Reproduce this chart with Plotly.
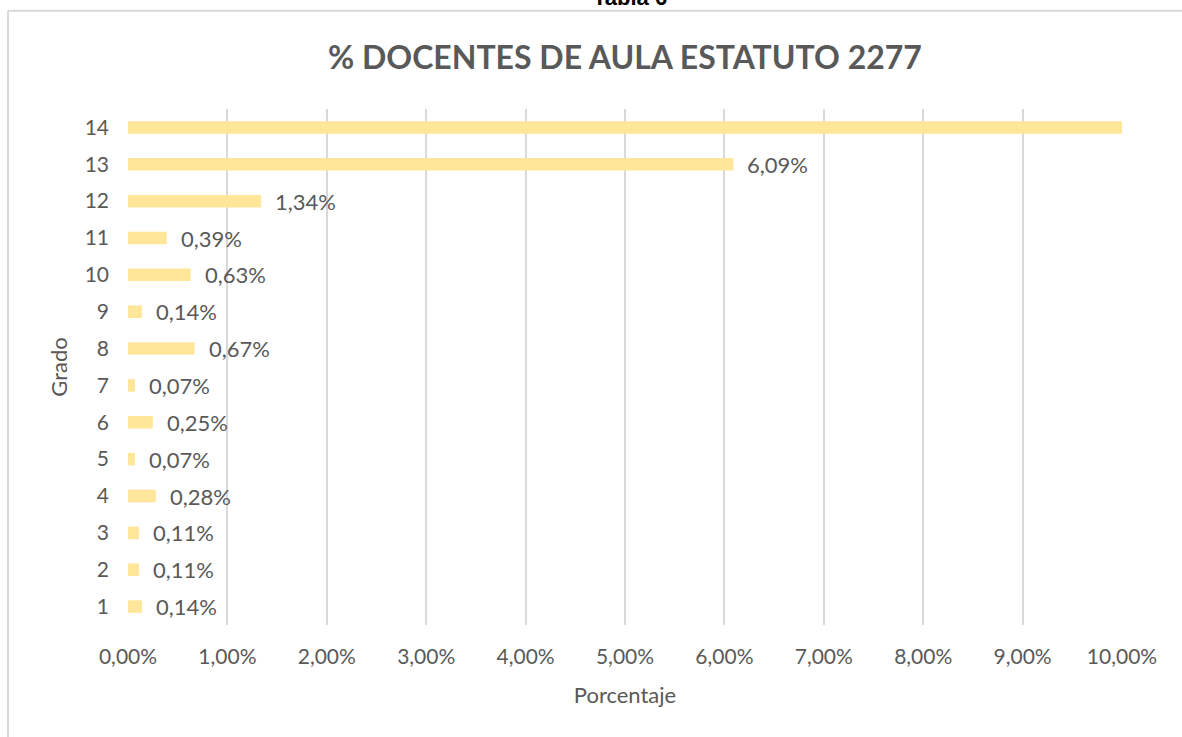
import plotly.graph_objects as go

grados = ["1", "2", "3", "4", "5", "6", "7", "8", "9", "10", "11", "12", "13", "14"]
porcentajes = [0.14, 0.11, 0.11, 0.28, 0.07, 0.25, 0.07, 0.67, 0.14, 0.63, 0.39, 1.34, 6.09, 89.71]
x_ticks = [0, 1, 2, 3, 4, 5, 6, 7, 8, 9, 10]
x_tick_labels = ["0,00%", "1,00%", "2,00%", "3,00%", "4,00%", "5,00%",
                 "6,00%", "7,00%", "8,00%", "9,00%", "10,00%"]
x_max = 10

W, H = 1182, 737
L, R, T, B = 128, 60, 108.5, 111.5
pw, ph = W - L - R, H - T - B

def px_x(p):
    return (p - L) / pw

def px_y(p):
    return (H - B - p) / ph

gray = "#595959"
font = "Lato, 'Open Sans', sans-serif"

fig = go.Figure()
fig.add_trace(go.Bar(
    y=grados, x=porcentajes, orientation="h",
    marker=dict(color="#FFE699", line=dict(width=0)),
    width=0.34, cliponaxis=True, hoverinfo="skip",
))

annotations = []
for i, (g, v) in enumerate(zip(grados, porcentajes)):
    if v <= x_max:
        annotations.append(dict(
            x=v, y=i, xref="x", yref="y",
            text=f"{v:.2f}%".replace(".", ","),
            showarrow=False, xanchor="left", yanchor="middle",
            xshift=12, font=dict(size=22, color=gray, family=font),
        ))

annotations.append(dict(
    x=px_x(630), y=px_y(-3), xref="paper", yref="paper",
    text="<b>Tabla 6</b>", showarrow=False, xanchor="center", yanchor="middle",
    font=dict(size=22, color="#000000", family="Liberation Sans, Arial"),
))

annotations.append(dict(
    x=0.5, y=px_y(56), xref="paper", yref="paper",
    text="<b>% DOCENTES DE AULA ESTATUTO 2277</b>", showarrow=False,
    xanchor="center", yanchor="middle",
    font=dict(size=32, color=gray, family=font),
))

shapes = [
    dict(type="line", xref="paper", yref="paper",
         x0=px_x(8), x1=px_x(1182), y0=px_y(10), y1=px_y(10),
         line=dict(color="#D9D9D9", width=2)),
    dict(type="line", xref="paper", yref="paper",
         x0=px_x(8), x1=px_x(8), y0=px_y(10), y1=px_y(740),
         line=dict(color="#D9D9D9", width=2)),
]

fig.update_layout(
    width=W, height=H,
    margin=dict(l=L, r=R, t=T, b=B, autoexpand=False),
    paper_bgcolor="white", plot_bgcolor="white",
    showlegend=False,
    xaxis=dict(range=[0, x_max], tickvals=x_ticks, ticktext=x_tick_labels,
               showgrid=True, gridcolor="#D9D9D9", gridwidth=2,
               zeroline=False, showline=False, ticks="", automargin=False,
               tickfont=dict(size=21, color=gray, family=font),
               ticklabelstandoff=17,
               title=dict(text="Porcentaje", standoff=20,
                          font=dict(size=22, color=gray, family=font))),
    yaxis=dict(type="category", categoryorder="array", categoryarray=grados,
               showgrid=False, zeroline=False, showline=False, ticks="",
               automargin=False,
               tickfont=dict(size=21, color=gray, family=font),
               ticklabelstandoff=18,
               title=dict(text="Grado", standoff=10,
                          font=dict(size=22, color=gray, family=font))),
    annotations=annotations,
    shapes=shapes,
)

fig.write_html("out.html", config={"displayModeBar": False},
               post_script="document.body.style.margin='0';document.body.style.overflow='hidden';")
